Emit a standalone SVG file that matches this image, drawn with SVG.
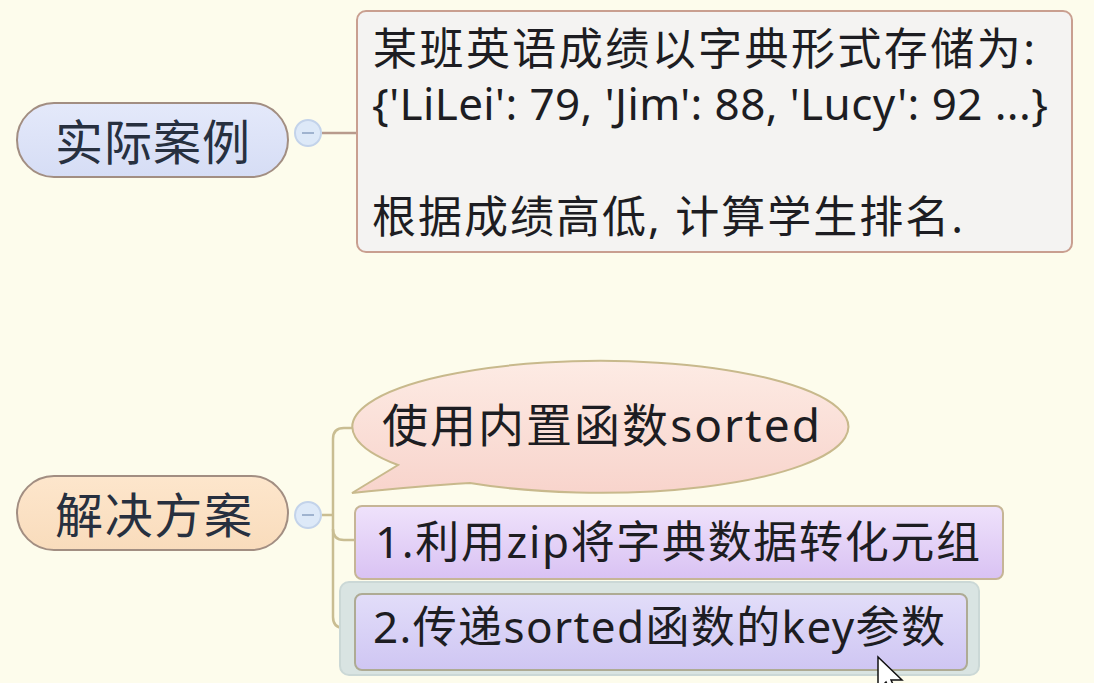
<svg xmlns="http://www.w3.org/2000/svg" width="1094" height="683" viewBox="0 0 1094 683">
<defs>
<linearGradient id="gBubble" x1="0" y1="0" x2="0" y2="1"><stop offset="0" stop-color="#fdebe4"/><stop offset="1" stop-color="#f8d4cc"/></linearGradient>
<linearGradient id="gBox2" x1="0" y1="0" x2="0" y2="1"><stop offset="0" stop-color="#efe2fb"/><stop offset="1" stop-color="#d9c2f3"/></linearGradient>
<linearGradient id="gBox3" x1="0" y1="0" x2="0" y2="1"><stop offset="0" stop-color="#e2ddf9"/><stop offset="1" stop-color="#cfc6f3"/></linearGradient>
<linearGradient id="gPill1" x1="0" y1="0" x2="0" y2="1"><stop offset="0" stop-color="#e4e9fa"/><stop offset="1" stop-color="#d6ddf5"/></linearGradient>
<linearGradient id="gPill2" x1="0" y1="0" x2="0" y2="1"><stop offset="0" stop-color="#fde6cc"/><stop offset="1" stop-color="#f9dcbc"/></linearGradient>
</defs>
<style>
text{font-family:"Noto Sans","Noto Sans CJK SC",sans-serif;}
.lbl{font-size:48px;fill:#27303f;}
.txt{font-size:44px;fill:#1d1d22;}
.pill{stroke:#a28e82;stroke-width:2;}
.tog{fill:#dde9f8;stroke:#c3d3ea;stroke-width:2;}
.minus{stroke:#9fb3cf;stroke-width:2;}
.c1{fill:none;stroke:#b89a8c;stroke-width:2.5;}
.c2{fill:none;stroke:#c9bd92;stroke-width:2.5;}
</style>
<rect x="0" y="0" width="1094" height="683" fill="#fdfcec"/>

<g id="connectors">
<path class="c1" d="M322,133 H357"/>
<path class="c2" d="M322,515 H333"/>
<path class="c2" d="M355,428 H344 Q333,428 333,439 V617 Q333,628 344,628 H355"/>
<path class="c2" d="M333,529 Q333,540 344,540 H355"/>
</g>

<g id="node-case">
<rect class="pill" x="17" y="103" width="271" height="74" rx="37" fill="url(#gPill1)"/>
<text class="lbl" x="55" y="160" textLength="195" lengthAdjust="spacing">实际案例</text>
<circle class="tog" cx="308" cy="133" r="13"/>
<line class="minus" x1="302" y1="133" x2="314" y2="133"/>
</g>

<g id="node-case-desc">
<rect x="357" y="11" width="715" height="241" rx="9" fill="#f4f3f2" stroke="#c99f90" stroke-width="2"/>
<text class="txt" x="373" y="65" textLength="662" lengthAdjust="spacing">某班英语成绩以字典形式存储为:</text>
<text class="txt" x="372" y="120" textLength="676" lengthAdjust="spacing">{'LiLei': 79, 'Jim': 88, 'Lucy': 92 ...}</text>
<text class="txt" x="372" y="233" textLength="591" lengthAdjust="spacing">根据成绩高低, 计算学生排名.</text>
</g>

<g id="node-solution">
<rect class="pill" x="17" y="476" width="271" height="74" rx="37" fill="url(#gPill2)"/>
<text class="lbl" x="55" y="533" textLength="197" lengthAdjust="spacing">解决方案</text>
<circle class="tog" cx="308" cy="515" r="13"/>
<line class="minus" x1="302" y1="515" x2="314" y2="515"/>
</g>

<g id="node-sorted">
<path d="M398,465 A248,66 0 1 1 470,483 Q420,486 352,493 Z" fill="url(#gBubble)" stroke="#c8b98c" stroke-width="2"/>
<text class="txt" x="382" y="442" style="font-size:46px" textLength="438" lengthAdjust="spacing">使用内置函数sorted</text>
</g>

<g id="node-step1">
<rect x="355" y="506" width="648" height="73" rx="7" fill="url(#gBox2)" stroke="#c6b596" stroke-width="2"/>
<text class="txt" x="375" y="558" textLength="605" lengthAdjust="spacing">1.利用zip将字典数据转化元组</text>
</g>

<g id="node-step2">
<rect x="340" y="582" width="639" height="93" rx="9" fill="#d9e4e2" stroke="#cbd8d6" stroke-width="2"/>
<rect x="355" y="594" width="612" height="76" rx="7" fill="url(#gBox3)" stroke="#aeab94" stroke-width="2"/>
<text class="txt" x="373" y="643" textLength="572" lengthAdjust="spacing">2.传递sorted函数的key参数</text>
</g>

<g id="cursor">
<path d="M878,657 V690 L886,682 L893,697 L898,695 L891,680 L902,680 Z" fill="#ffffff" stroke="#111111" stroke-width="1.5"/>
</g>
</svg>
